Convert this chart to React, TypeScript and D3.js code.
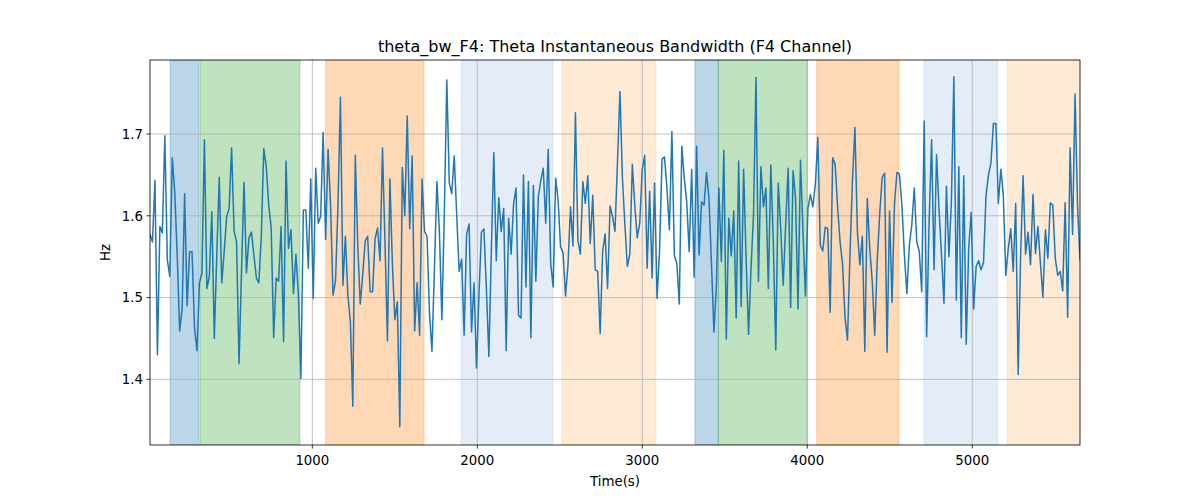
import React from "react";
import * as d3 from "d3";

const TITLE = "theta_bw_F4: Theta Instantaneous Bandwidth (F4 Channel)";
const X_LABEL = "Time(s)";
const Y_LABEL = "Hz";

const T_START = 16;
const T_END = 5653;
const Y_MIN = 1.3197;
const Y_MAX = 1.7905;

const xTicks = [1000, 2000, 3000, 4000, 5000];
const yTicks = [1.4, 1.5, 1.6, 1.7];

const spanStarts = [138, 319, 1081, 1901, 2513, 3319, 3461, 4057, 4707, 5212];
const spanEnds = [313, 925, 1677, 2459, 3083, 3461, 4000, 4556, 5154, 5653];
const spanKinds = ["blue", "green", "orange", "lightblue", "lightorange", "blue", "green", "orange", "lightblue", "lightorange"];

const bandwidth = [
  1.577, 1.568, 1.643, 1.430, 1.587, 1.579, 1.698, 1.546, 1.526, 1.671, 1.629, 1.552, 1.459, 1.487, 1.627, 1.490,
  1.556, 1.556, 1.463, 1.435, 1.518, 1.530, 1.693, 1.511, 1.526, 1.605, 1.450, 1.552, 1.647, 1.518, 1.556, 1.599,
  1.609, 1.683, 1.581, 1.568, 1.419, 1.532, 1.641, 1.530, 1.573, 1.580, 1.552, 1.524, 1.518, 1.575, 1.682, 1.660,
  1.613, 1.585, 1.451, 1.524, 1.520, 1.587, 1.446, 1.667, 1.560, 1.583, 1.505, 1.553, 1.503, 1.401, 1.607, 1.607,
  1.536, 1.645, 1.499, 1.658, 1.591, 1.599, 1.702, 1.571, 1.681, 1.613, 1.503, 1.520, 1.613, 1.745, 1.515, 1.575,
  1.503, 1.471, 1.367, 1.674, 1.564, 1.492, 1.528, 1.569, 1.575, 1.507, 1.507, 1.572, 1.585, 1.545, 1.683, 1.568,
  1.447, 1.645, 1.540, 1.473, 1.495, 1.342, 1.659, 1.600, 1.722, 1.584, 1.673, 1.459, 1.518, 1.454, 1.645, 1.581,
  1.575, 1.481, 1.434, 1.536, 1.642, 1.581, 1.473, 1.603, 1.766, 1.640, 1.627, 1.673, 1.601, 1.532,
  1.547, 1.454, 1.577, 1.590, 1.458, 1.518, 1.414, 1.503, 1.580, 1.584, 1.511, 1.428, 1.556, 1.677, 1.545, 1.622,
  1.581, 1.609, 1.435, 1.597, 1.553, 1.615, 1.634, 1.478, 1.475, 1.650, 1.513, 1.642, 1.451, 1.637, 1.520, 1.623,
  1.643, 1.658, 1.591, 1.681, 1.542, 1.513, 1.646, 1.619, 1.562, 1.555, 1.502, 1.540, 1.611, 1.563, 1.726, 1.570,
  1.553, 1.642, 1.615, 1.649, 1.566, 1.625, 1.534, 1.532, 1.456, 1.556, 1.578, 1.511, 1.612, 1.599, 1.581,
  1.666, 1.752, 1.646, 1.589, 1.538, 1.553, 1.663, 1.613, 1.573, 1.591, 1.656, 1.674, 1.536, 1.630, 1.524, 1.640,
  1.499, 1.556, 1.669, 1.672, 1.634, 1.583, 1.703, 1.551, 1.542, 1.492, 1.685, 1.646, 1.617, 1.556, 1.657, 1.525,
  1.685, 1.552, 1.617, 1.613, 1.653, 1.621, 1.542, 1.458, 1.516, 1.634, 1.544, 1.680, 1.449, 1.597, 1.551, 1.606,
  1.475, 1.667, 1.489, 1.657, 1.548, 1.455, 1.536, 1.601, 1.769, 1.520, 1.660, 1.611, 1.634, 1.511, 1.662,
  1.568, 1.436, 1.640, 1.585, 1.515, 1.589, 1.658, 1.488, 1.655, 1.621, 1.486, 1.668, 1.581, 1.502, 1.609, 1.626,
  1.611, 1.638, 1.696, 1.564, 1.557, 1.586, 1.584, 1.482, 1.671, 1.663, 1.611, 1.568, 1.541, 1.475, 1.448, 1.552,
  1.643, 1.708, 1.581, 1.540, 1.575, 1.434, 1.621, 1.560, 1.520, 1.454, 1.544, 1.601, 1.647, 1.652, 1.433, 1.606,
  1.494, 1.615, 1.653, 1.651, 1.613, 1.552, 1.505, 1.564, 1.589, 1.634, 1.568, 1.557, 1.507, 1.716,
  1.452, 1.593, 1.693, 1.534, 1.675, 1.609, 1.552, 1.493, 1.636, 1.550, 1.617, 1.770, 1.497, 1.660, 1.451, 1.649,
  1.443, 1.560, 1.604, 1.486, 1.538, 1.545, 1.534, 1.543, 1.625, 1.650, 1.665, 1.713, 1.713, 1.615, 1.657, 1.625,
  1.527, 1.560, 1.584, 1.532, 1.615, 1.406, 1.552, 1.649, 1.553, 1.580, 1.540, 1.626, 1.554, 1.587, 1.542, 1.500,
  1.583, 1.548, 1.616, 1.613, 1.548, 1.527, 1.532, 1.508, 1.616, 1.476, 1.683, 1.577, 1.749, 1.613, 1.546,
];

const SPAN_STYLE: Record<string, { color: string; opacity: number }> = {
  blue: { color: "#1f77b4", opacity: 0.3 },
  green: { color: "#2ca02c", opacity: 0.3 },
  orange: { color: "#ff7f0e", opacity: 0.3 },
  lightblue: { color: "#aec7e8", opacity: 0.33 },
  lightorange: { color: "#ffbb78", opacity: 0.3 },
};

export default function App() {
  const W = 1200;
  const H = 500;
  const L = 150, R = 1080, T = 60, B = 445;
  const font = "'DejaVu Sans', sans-serif";

  const x = d3.scaleLinear().domain([T_START, T_END]).range([L, R]);
  const y = d3.scaleLinear().domain([Y_MIN, Y_MAX]).range([B, T]);
  const tIdx = d3.scaleLinear().domain([0, bandwidth.length - 1]).range([T_START, T_END]);

  const line = d3
    .line<number>()
    .x((_, i) => x(tIdx(i)))
    .y((v) => y(v));

  return (
    <svg width={W} height={H} style={{ display: "block", margin: "-8px" }} fontFamily={font}>
      <rect x={0} y={0} width={W} height={H} fill="#fff" />
      <defs>
        <clipPath id="plot">
          <rect x={L} y={T} width={R - L} height={B - T} />
        </clipPath>
      </defs>
      <g clipPath="url(#plot)">
        {spanStarts.map((s, i) => {
          const st = SPAN_STYLE[spanKinds[i]];
          return (
            <rect
              key={i}
              x={x(s)}
              y={T}
              width={x(spanEnds[i]) - x(s)}
              height={B - T}
              fill={st.color}
              fillOpacity={st.opacity}
              stroke={st.color}
              strokeOpacity={st.opacity}
              strokeWidth={1}
            />
          );
        })}
        {xTicks.map((t) => (
          <line key={"gx" + t} x1={x(t)} x2={x(t)} y1={T} y2={B} stroke="#b0b0b0" strokeWidth={0.8} />
        ))}
        {yTicks.map((t) => (
          <line key={"gy" + t} x1={L} x2={R} y1={y(t)} y2={y(t)} stroke="#b0b0b0" strokeWidth={0.8} />
        ))}
        <path d={line(bandwidth) || ""} fill="none" stroke="#1f77b4" strokeWidth={1.5} strokeLinejoin="round" strokeLinecap="square" />
      </g>
      <rect x={L} y={T} width={R - L} height={B - T} fill="none" stroke="#000" strokeWidth={0.8} />
      {xTicks.map((t) => (
        <g key={"tx" + t}>
          <line x1={x(t)} x2={x(t)} y1={B} y2={B + 3.5} stroke="#000" strokeWidth={0.8} />
          <text x={x(t)} y={B + 20} textAnchor="middle" fontSize={13.33} fill="#000">
            {t}
          </text>
        </g>
      ))}
      {yTicks.map((t) => (
        <g key={"ty" + t}>
          <line x1={L - 3.5} x2={L} y1={y(t)} y2={y(t)} stroke="#000" strokeWidth={0.8} />
          <text x={L - 7} y={y(t)} dy="0.36em" textAnchor="end" fontSize={13.33} fill="#000">
            {t.toFixed(1)}
          </text>
        </g>
      ))}
      <text x={(L + R) / 2} y={486} textAnchor="middle" fontSize={13.33} fill="#000">
        {X_LABEL}
      </text>
      <text transform={`translate(110, ${(T + B) / 2}) rotate(-90)`} textAnchor="middle" fontSize={13.33} fill="#000">
        {Y_LABEL}
      </text>
      <text x={(L + R) / 2} y={52} textAnchor="middle" fontSize={16} fill="#000">
        {TITLE}
      </text>
    </svg>
  );
}
